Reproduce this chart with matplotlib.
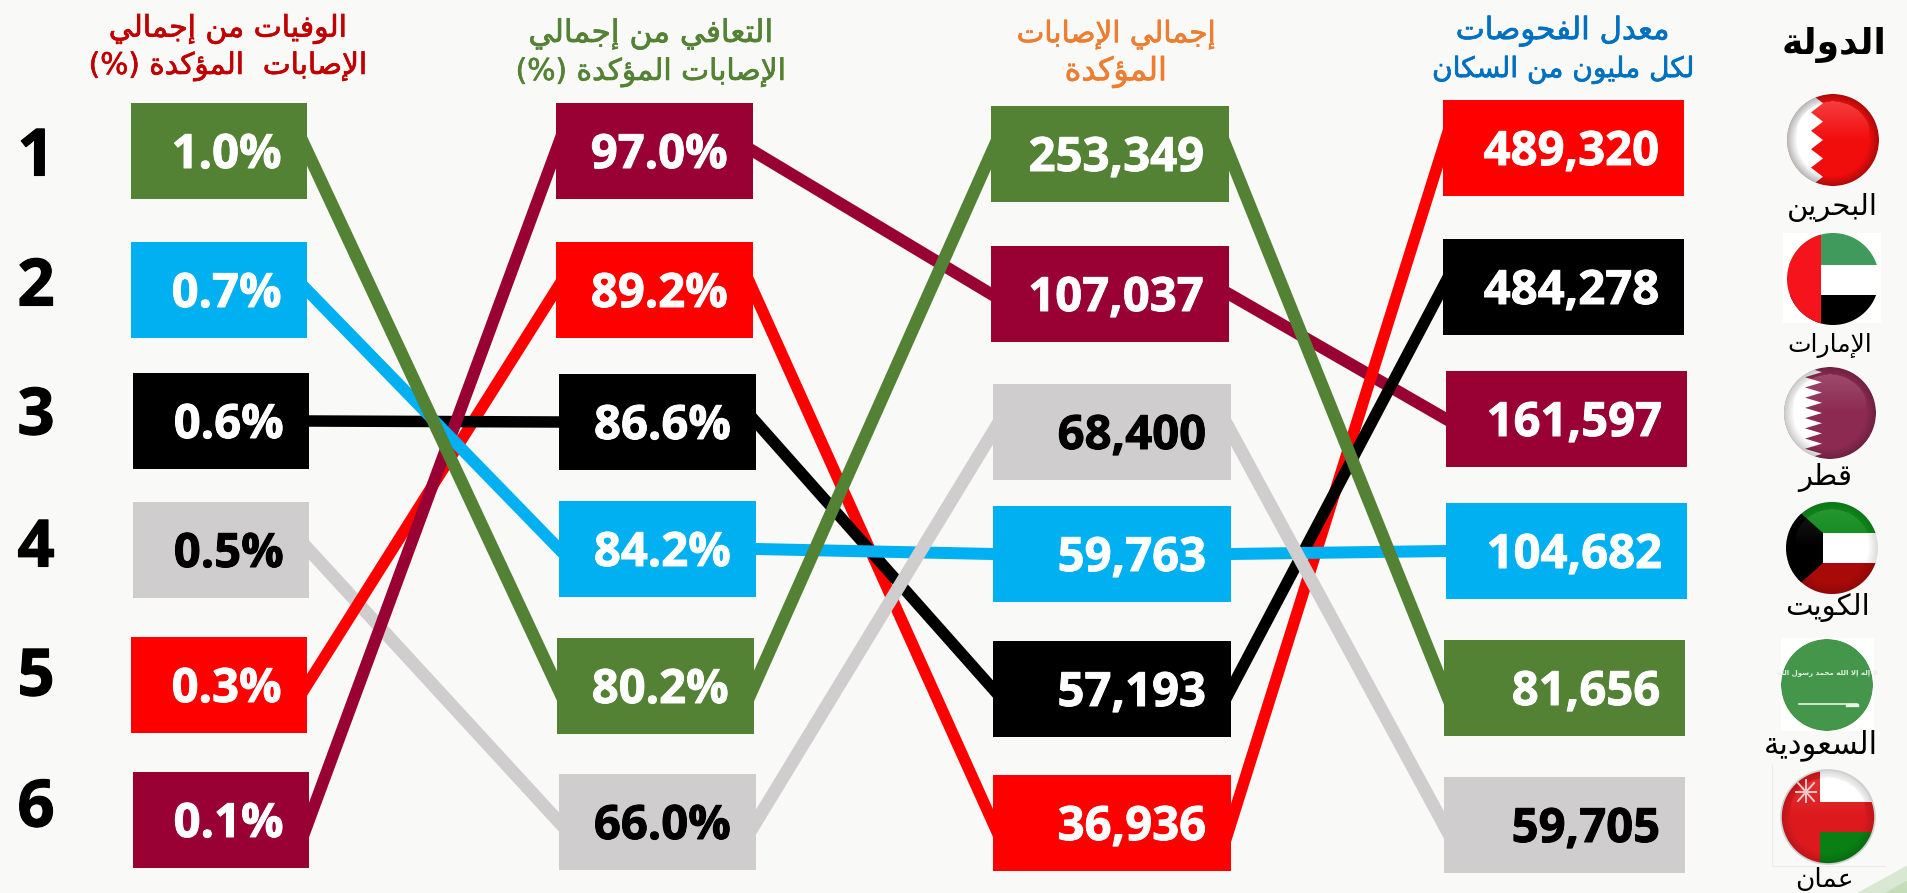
import numpy as np
import matplotlib
matplotlib.use('Agg')
import matplotlib.pyplot as plt
import matplotlib.patheffects as pe
from matplotlib.patches import Circle, Polygon, Rectangle

# countries, same order in every value list below
countries = ['البحرين', 'الإمارات', 'قطر', 'الكويت', 'السعودية', 'عمان']
country_colors = ['#FF0000', '#000000', '#990033', '#00B0F0', '#548235', '#CFCDCE']

death_pct = [0.3, 0.6, 0.1, 0.7, 1.0, 0.5]
recovery_pct = [89.2, 86.6, 97.0, 84.2, 80.2, 66.0]
confirmed = [36936, 57193, 107037, 59763, 253349, 68400]
tests_per_million = [489320, 484278, 161597, 104682, 81656, 59705]

ranks = ['1', '2', '3', '4', '5', '6']
country_title = 'الدولة'
titles = [
    ['الوفيات من إجمالي', 'الإصابات  المؤكدة (%)'],
    ['التعافي من إجمالي', 'الإصابات المؤكدة (%)'],
    ['إجمالي الإصابات', 'المؤكدة'],
    ['معدل الفحوصات', 'لكل مليون من السكان'],
]
title_colors = ['#C00000', '#548235', '#ED7D31', '#0070C0']

# layout in reference pixels
BG = '#F9F9F7'
BOX_H = 96
box_w = [176, 197, 238, 241]
box_left = [
    [131, 131, 133, 133, 131, 133],
    [556, 556, 559, 559, 557, 559],
    [991, 991, 993, 993, 993, 993],
    [1443, 1443, 1446, 1446, 1444, 1444],
]
box_mid = [
    [151, 290, 421, 550, 685, 820],
    [151, 290, 422, 549, 686, 822],
    [154, 294, 432, 554, 689, 823],
    [148, 287, 419, 551, 688, 825],
]
rank_y = [151, 281, 410, 542, 671, 802]
title_x = [228, 651, 1116, 1563]
title_y = [[29, 66], [34, 72], [35, 72], [31, 70]]
title_size = [[21.5, 21.3], [22.5, 21.4], [21.2, 23], [22.2, 20.2]]
flag_x = [1833, 1833, 1830, 1832, 1827, 1828]
flag_y = [140, 279, 413, 548, 685, 817]
name_x = [1832, 1830, 1825, 1828, 1821, 1824]
name_y = [207, 345, 477, 607, 745, 880]
name_size = [21, 18, 21, 21, 22, 19]
line_px = [11.5, 11.5, 12, 12, 12.5, 13]
# draw order of the lines in each gap, bottom first (country index)
line_order = [
    [5, 0, 1, 2, 3, 4],
    [2, 0, 1, 3, 4, 5],
    [2, 0, 1, 3, 5, 4],
]

# matplotlib has no arabic shaping, so map to presentation forms and reverse
FORM_START = {
    'آ': 0xFE81, 'أ': 0xFE83, 'ؤ': 0xFE85, 'إ': 0xFE87, 'ئ': 0xFE89, 'ا': 0xFE8D,
    'ب': 0xFE8F, 'ة': 0xFE93, 'ت': 0xFE95, 'ث': 0xFE99, 'ج': 0xFE9D, 'ح': 0xFEA1,
    'خ': 0xFEA5, 'د': 0xFEA9, 'ذ': 0xFEAB, 'ر': 0xFEAD, 'ز': 0xFEAF, 'س': 0xFEB1,
    'ش': 0xFEB5, 'ص': 0xFEB9, 'ض': 0xFEBD, 'ط': 0xFEC1, 'ظ': 0xFEC5, 'ع': 0xFEC9,
    'غ': 0xFECD, 'ف': 0xFED1, 'ق': 0xFED5, 'ك': 0xFED9, 'ل': 0xFEDD, 'م': 0xFEE1,
    'ن': 0xFEE5, 'ه': 0xFEE9, 'و': 0xFEED, 'ى': 0xFEEF, 'ي': 0xFEF1,
}
RIGHT_ONLY = set('آأؤإاةدذرزوى')
LAM_ALEF = {'آ': 0xFEF5, 'أ': 0xFEF7, 'إ': 0xFEF9, 'ا': 0xFEFB}
MIRROR = {'(': ')', ')': '('}


def shape(text):
    out = []
    i = 0
    prev_joins = False
    while i < len(text):
        c = text[i]
        if c not in FORM_START:
            out.append(MIRROR.get(c, c))
            prev_joins = False
            i += 1
            continue
        if c == 'ل' and i + 1 < len(text) and text[i + 1] in LAM_ALEF:
            out.append(chr(LAM_ALEF[text[i + 1]] + (1 if prev_joins else 0)))
            prev_joins = False
            i += 2
            continue
        next_ok = i + 1 < len(text) and text[i + 1] in FORM_START
        start = FORM_START[c]
        if c in RIGHT_ONLY:
            out.append(chr(start + (1 if prev_joins else 0)))
            prev_joins = False
        else:
            if prev_joins and next_ok:
                form = 3
            elif next_ok:
                form = 2
            elif prev_joins:
                form = 1
            else:
                form = 0
            out.append(chr(start + form))
            prev_joins = next_ok
        i += 1
    return ''.join(reversed(out))


def heavier(color, width):
    # thicken the glyphs a little, the reference font is heavier
    return [pe.withStroke(linewidth=width, foreground=color)]


fig = plt.figure(figsize=(19.08, 8.93), dpi=100, facecolor=BG)
ax = fig.add_axes([0, 0, 1, 1])
ax.set_axis_off()

# positions come from sorting each column
columns = [death_pct, recovery_pct, confirmed, tests_per_million]
column_ranks = [np.argsort(np.argsort(-np.array(c))) for c in columns]

# faint green corner
ax.add_patch(Polygon([(1857, 893), (1908, 865), (1908, 893)], fc='#D9E8D2', ec='none', zorder=1))
ax.add_patch(Polygon([(1885, 893), (1908, 880), (1908, 893)], fc='#C4DDB8', ec='none', zorder=1))

# connecting lines, run on a little under the boxes so the ends are hidden
z = 2
for gap in range(3):
    for c in line_order[gap]:
        r0 = column_ranks[gap][c]
        r1 = column_ranks[gap + 1][c]
        x0 = box_left[gap][r0] + box_w[gap]
        x1 = box_left[gap + 1][r1]
        y0 = box_mid[gap][r0]
        y1 = box_mid[gap + 1][r1]
        ext = 0.04
        ax.plot([x0 - ext * (x1 - x0), x1 + ext * (x1 - x0)],
                [y0 - ext * (y1 - y0), y1 + ext * (y1 - y0)],
                color=country_colors[c], lw=line_px[c] * 0.72, solid_capstyle='butt', zorder=z)
        z += 1

# boxes and their values
for col, values in enumerate(columns):
    for c, v in enumerate(values):
        r = column_ranks[col][c]
        left = box_left[col][r]
        mid = box_mid[col][r]
        ax.add_patch(Rectangle((left, mid - BOX_H / 2), box_w[col], BOX_H,
                               fc=country_colors[c], ec='none', zorder=30))
        if col < 2:
            label = f'{v:.1f}%'
        else:
            label = f'{v:,}'
        color = 'black' if c == 5 else 'white'
        ax.text(left + box_w[col] - 25, mid - 1, label, ha='right', va='center_baseline',
                family='Open Sans', weight='bold', fontsize=34, color=color, zorder=31,
                path_effects=heavier(color, 0.7))

for r, y in zip(ranks, rank_y):
    ax.text(36, y, r, ha='center', va='center_baseline', family='Open Sans',
            weight='bold', fontsize=47, color='black', path_effects=heavier('black', 0.8))

for col in range(4):
    for line in range(2):
        ax.text(title_x[col], title_y[col][line], shape(titles[col][line]), ha='center',
                va='center', family='DejaVu Sans', fontsize=title_size[col][line],
                color=title_colors[col], path_effects=heavier(title_colors[col], 0.5))

ax.text(1834, 45, shape(country_title), ha='center', va='center', family='DejaVu Sans',
        weight='bold', fontsize=26, color='black')
for name, x, y, s in zip(countries, name_x, name_y, name_size):
    ax.text(x, y, shape(name), ha='center', va='center', family='DejaVu Sans',
            fontsize=s, color='black', zorder=40)


# flag balls
def gloss(cx, cy, r, clip, strength=1.0):
    n = 120
    yy, xx = np.mgrid[-1:1:n * 1j, -1:1:n * 1j]
    rho = np.hypot(xx, yy)
    rgba = np.zeros((n, n, 4))
    edge = np.clip((rho - 0.78) / 0.22, 0, 1) * 0.35 * strength
    top = np.clip(-yy, 0, 1) * 0.3 * strength * (rho < 0.85)
    rgba[..., :3] = (top > edge)[..., None] * 1.0
    rgba[..., 3] = np.maximum(edge, top)
    im = ax.imshow(rgba, extent=(cx - r, cx + r, cy + r, cy - r), zorder=36,
                   aspect='auto', interpolation='bilinear')
    im.set_clip_path(clip)


def ball(i, r=46):
    cx, cy = flag_x[i], flag_y[i]
    clip = Circle((cx, cy), r, transform=ax.transData)
    return cx, cy, clip


def clipped(patch, clip, z=35):
    ax.add_patch(patch)
    patch.set_zorder(z)
    patch.set_clip_path(clip)


def zigzag(cx, cy, r, x_in, x_out, teeth):
    pts = [(cx - r, cy - r), (cx + x_in, cy - r)]
    ys = np.linspace(cy - r, cy + r, teeth * 2 + 1)
    for k, y in enumerate(ys):
        pts.append((cx + (x_out if k % 2 else x_in), y))
    pts += [(cx + x_in, cy + r), (cx - r, cy + r)]
    return Polygon(pts, fc='white', ec='none')


# white image backgrounds behind two of the flags
ax.add_patch(Rectangle((1783, 233), 98, 90, fc='white', ec='none', zorder=33))
ax.add_patch(Rectangle((1781, 638), 93, 93, fc='white', ec='none', zorder=33))
ax.plot([1772, 1772, 1885], [765, 866, 866], color='#ECECEC', lw=0.8, zorder=33)

# Bahrain
cx, cy, clip = ball(0)
clipped(Circle((cx, cy), 46, fc='#F20D0D', ec='none'), clip)
clipped(zigzag(cx, cy, 46, -22, -10, 5), clip)
gloss(cx, cy, 46, clip, 0.8)

# UAE
cx, cy, clip = ball(1)
clipped(Rectangle((cx - 46, cy - 46), 92, 32, fc='#3F9A5C', ec='none'), clip)
clipped(Rectangle((cx - 46, cy - 14), 92, 30, fc='white', ec='none'), clip)
clipped(Rectangle((cx - 46, cy + 16), 92, 30, fc='black', ec='none'), clip)
clipped(Rectangle((cx - 46, cy - 46), 34, 92, fc='#F5141C', ec='none'), clip)

# Qatar
cx, cy, clip = ball(2)
clipped(Circle((cx, cy), 46, fc='#8C2A52', ec='none'), clip)
clipped(zigzag(cx, cy, 46, -25, -8, 9), clip)
gloss(cx, cy, 46, clip, 0.6)

# Kuwait
cx, cy, clip = ball(3)
clipped(Rectangle((cx - 46, cy - 46), 92, 31, fc='#0E8A1A', ec='none'), clip)
clipped(Rectangle((cx - 46, cy - 15), 92, 30, fc='white', ec='none'), clip)
clipped(Rectangle((cx - 46, cy + 15), 92, 31, fc='#A80A0A', ec='none'), clip)
clipped(Polygon([(cx - 46, cy - 48), (cx - 9, cy - 15), (cx - 9, cy + 15), (cx - 46, cy + 48)],
                fc='black', ec='none'), clip)
gloss(cx, cy, 46, clip, 0.4)

# Saudi
cx, cy, clip = ball(4)
clipped(Circle((cx, cy), 46, fc='#43964A', ec='none'), clip)
ax.text(cx, cy - 12, shape('لا إله إلا الله محمد رسول الله'), ha='center', va='center',
        family='DejaVu Sans', weight='bold', fontsize=5, color='#E4F0E2', zorder=37)
ax.plot([cx - 28, cx + 30], [cy + 19, cy + 19], color='#E8F2E6', lw=1.2, zorder=37)
ax.plot([cx + 20, cx + 30], [cy + 20, cy + 20], color='#E8F2E6', lw=2.4, zorder=37)

# Oman
cx, cy, clip = ball(5, 47)
clipped(Circle((cx, cy), 47, fc='#DC1A1E', ec='none'), clip)
clipped(Rectangle((cx - 8, cy - 47), 55, 32, fc='white', ec='none'), clip)
clipped(Rectangle((cx - 8, cy + 15), 55, 32, fc='#0A7F14', ec='none'), clip)
for dx0, dy0, dx1, dy1 in [(-32, -25, -12, -25), (-30, -34, -14, -16), (-14, -34, -30, -16), (-22, -37, -22, -15)]:
    ax.plot([cx + dx0, cx + dx1], [cy + dy0, cy + dy1], color='#F3C9C9', lw=1.4, zorder=37)
gloss(cx, cy, 47, clip, 0.45)
ax.add_patch(Circle((cx, cy), 47, fc='none', ec='#CFCFCF', lw=1.2, zorder=38))

ax.set_xlim(0, 1908)
ax.set_ylim(893, 0)
fig.savefig('out.png', dpi=100, facecolor=BG)
